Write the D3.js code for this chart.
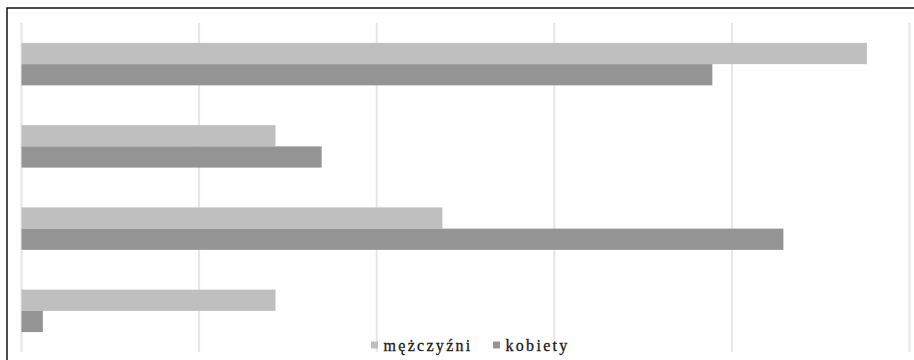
<!DOCTYPE html>
<html>
<head>
<meta charset="utf-8">
<script src="https://cdn.jsdelivr.net/npm/d3@7"></script>
<style>
  html, body { margin: 0; padding: 0; background: #fff; }
  svg { display: block; }
  .legend-label { font-family: "Liberation Serif", "Times New Roman", Times, "DejaVu Serif", serif; }
</style>
</head>
<body>
<svg id="chart" width="914" height="360"></svg>
<script>
// Four groups, two series (percent)
const categories = ["1", "2", "3", "4"];
const seriesNames = ["mężczyźni", "kobiety"];
const men = [47.6, 14.3, 23.7, 14.3];
const women = [38.9, 16.9, 42.9, 1.2];
const tickValues = [0, 10, 20, 30, 40, 50];
const colors = ["#bfbfbf", "#949494"];

const svg = d3.select("#chart");

// Outer frame (right and bottom edges run off the canvas)
svg.append("rect")
  .attr("x", 7).attr("y", 8)
  .attr("width", 940).attr("height", 400)
  .attr("fill", "#fff")
  .attr("stroke", "#111")
  .attr("stroke-width", 1.5);

const plotTop = 23, plotBottom = 352;
const x = d3.scaleLinear().domain([0, 50]).range([21.5, 909.5]);
const y = d3.scaleBand().domain(categories)
  .range([plotTop, plotBottom])
  .paddingInner(0.484).paddingOuter(0.242);
const ySub = d3.scaleBand().domain(seriesNames).range([0, y.bandwidth()]);

// Vertical gridlines
svg.append("g")
  .selectAll("line")
  .data(tickValues)
  .join("line")
  .attr("x1", d => x(d)).attr("x2", d => x(d))
  .attr("y1", plotTop).attr("y2", plotBottom)
  .attr("stroke", "#e6e6e6")
  .attr("stroke-width", 2);

const rows = categories.map((c, i) => ({ cat: c, values: [men[i], women[i]] }));

const groups = svg.append("g")
  .selectAll("g")
  .data(rows)
  .join("g")
  .attr("transform", d => `translate(0,${y(d.cat)})`);

groups.selectAll("rect")
  .data(d => d.values.map((v, j) => ({ name: seriesNames[j], v, j })))
  .join("rect")
  .attr("x", x(0))
  .attr("y", d => ySub(d.name))
  .attr("width", d => x(d.v) - x(0))
  .attr("height", ySub.bandwidth())
  .attr("fill", d => colors[d.j]);

// Legend
const legendItems = [
  { name: seriesNames[0], color: colors[0], x: 371 },
  { name: seriesNames[1], color: colors[1], x: 493 }
];
const lg = svg.append("g")
  .selectAll("g")
  .data(legendItems)
  .join("g")
  .attr("transform", d => `translate(${d.x},0)`);
lg.append("rect")
  .attr("x", 0).attr("y", 341.5)
  .attr("width", 7).attr("height", 7)
  .attr("fill", d => d.color);
lg.append("text")
  .attr("class", "legend-label")
  .attr("x", 12.5).attr("y", 351)
  .attr("font-size", 16)
  .attr("letter-spacing", 2.3)
  .attr("fill", "#1a1a1a")
  .attr("stroke", "#1a1a1a")
  .attr("stroke-width", 0.3)
  .text(d => d.name);
</script>
</body>
</html>
